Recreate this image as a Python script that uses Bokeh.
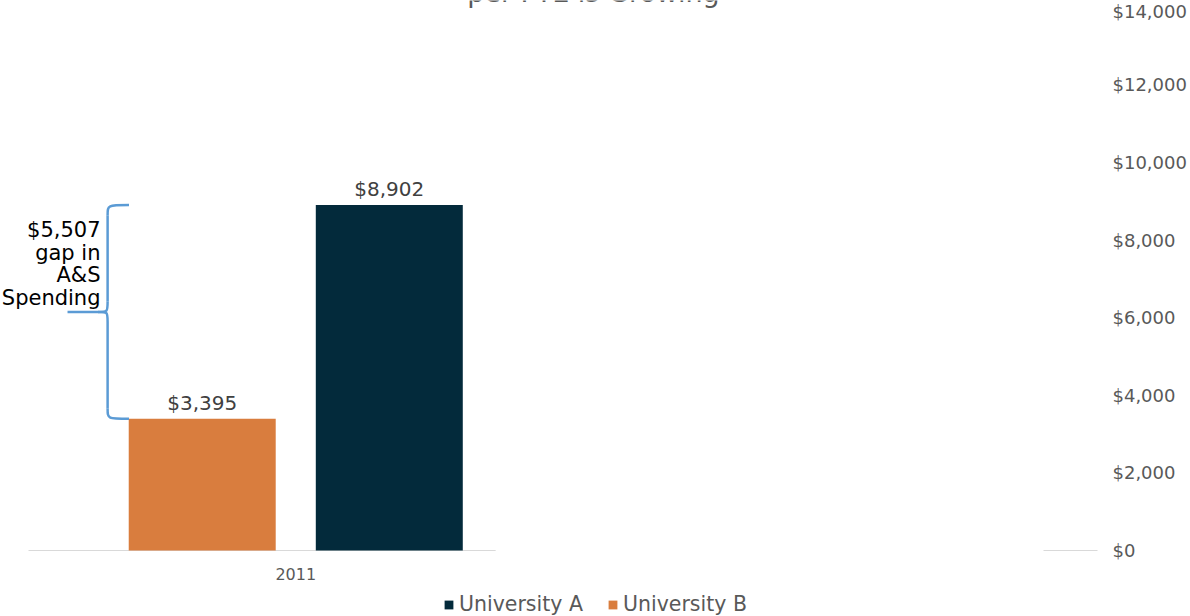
from bokeh.plotting import figure
from bokeh.models import Range1d, FixedTicker, Legend, LegendItem
from bokeh.core.properties import value
from bokeh.embed import file_html
from bokeh.resources import INLINE

# ---- data ----
years = ["2011"]
univ_a = [8902]
univ_b = [3395]
series_names = ["University A", "University B"]
y_ticks = [0, 2000, 4000, 6000, 8000, 10000, 12000, 14000]
y_tick_labels = ["$0", "$2,000", "$4,000", "$6,000", "$8,000", "$10,000", "$12,000", "$14,000"]
gap_lines = ["$5,507", "gap in", "A&S", "Spending"]
title_text = "per FTE is Growing"

# ---- style ----
FONT = "DejaVu Sans"
GREY = "#595959"
ORANGE = "#D97D3E"
NAVY = "#032A3B"
BLUE = "#5B9BD5"

# plot area spans the whole canvas; axes are pinned inside it
X0, X1 = -0.0524, 2.174
Y0, Y1 = -1701, 14175
p = figure(width=1190, height=616, output_backend="svg", toolbar_location=None,
           x_range=Range1d(X0, X1), y_range=Range1d(Y0, Y1),
           y_axis_location="right",
           min_border_left=0, min_border_top=0, min_border_right=0, min_border_bottom=0)
p.outline_line_color = None
p.xgrid.visible = False
p.ygrid.visible = False
p.background_fill_color = "white"
p.border_fill_color = "white"

# y axis (right, pinned at x = 2.0)
ya = p.yaxis[0]
ya.fixed_location = 2.0
ya.ticker = FixedTicker(ticks=y_ticks)
ya.major_label_overrides = {t: l for t, l in zip(y_ticks, y_tick_labels)}
ya.axis_line_color = None
ya.major_tick_line_color = None
ya.minor_tick_line_color = None
ya.major_tick_out = 0
ya.major_tick_in = 0
ya.minor_tick_out = 0
ya.minor_tick_in = 0
ya.major_label_standoff = 15
ya.major_label_text_font = FONT
ya.major_label_text_font_size = "18px"
ya.major_label_text_color = GREY

# x axis (pinned at y = 0)
xpos = [i + 0.5 for i in range(len(years))]
xa = p.xaxis[0]
xa.fixed_location = 0
xa.ticker = FixedTicker(ticks=xpos)
xa.major_label_overrides = {x: y for x, y in zip(xpos, years)}
xa.axis_line_color = None
xa.major_tick_line_color = None
xa.minor_tick_line_color = None
xa.major_tick_out = 0
xa.major_tick_in = 0
xa.minor_tick_out = 0
xa.minor_tick_in = 0
xa.major_label_standoff = 17
xa.major_label_text_font = FONT
xa.major_label_text_font_size = "16px"
xa.major_label_text_color = GREY

# baseline pieces
p.segment(x0=[0.0, 1.899], y0=[0, 0], x1=[0.874, 2.0], y1=[0, 0], line_color="#D9D9D9", line_width=1.2)

OFF = 0.175
BW = 0.275
xb = [x - OFF for x in xpos]
xa_ = [x + OFF for x in xpos]
rb = p.vbar(x=xb, top=univ_b, width=BW, fill_color=ORANGE, line_color=None)
ra = p.vbar(x=xa_, top=univ_a, width=BW, fill_color=NAVY, line_color=None)

# value labels
p.text(x=xb, y=univ_b, text=[f"${v:,}" for v in univ_b], text_align="center", text_baseline="bottom",
       y_offset=-4, text_font=value(FONT), text_font_size="20px", text_color="#404040")
p.text(x=xa_, y=univ_a, text=[f"${v:,}" for v in univ_a], text_align="center", text_baseline="bottom",
       y_offset=-4, text_font=value(FONT), text_font_size="20px", text_color="#404040")

# brace between the two bar tops
y_top = univ_a[0]
y_bot = univ_b[0]
y_mid = (y_top + y_bot) / 2
SPINE, TIP, CUSP, STUB, R = 0.148, 0.188, 0.130, 0.073, 260
bk = dict(line_color=BLUE, line_width=2.5)
p.bezier(x0=[TIP, SPINE, CUSP, SPINE], y0=[y_top, y_mid + R, y_mid, y_bot + R],
         x1=[SPINE, CUSP, SPINE, TIP], y1=[y_top - R, y_mid, y_mid - R, y_bot],
         cx0=[SPINE, SPINE, SPINE, SPINE], cy0=[y_top, y_mid, y_mid, y_bot],
         cx1=[SPINE, SPINE, SPINE, SPINE], cy1=[y_top, y_mid, y_mid, y_bot], **bk)
p.segment(x0=[SPINE, SPINE, CUSP], y0=[y_top - R, y_mid - R, y_mid],
          x1=[SPINE, SPINE, STUB], y1=[y_mid + R, y_bot + R, y_mid], **bk)

# gap text
gap_y = [8270, 7680, 7090, 6500]
p.text(x=[0.1347] * len(gap_lines), y=gap_y, text=gap_lines, text_align="right", text_baseline="middle",
       text_font=value(FONT), text_font_size="21px", text_color="#000000")

# cut-off title (only its lower edge shows, as in the source)
p.text(x=[1.057], y=[14381], text=[title_text], text_align="center", text_baseline="alphabetic",
       text_font=value(FONT), text_font_size="27px", text_color=GREY)

# legend
legend = Legend(items=[LegendItem(label=series_names[0], renderers=[ra]),
                       LegendItem(label=series_names[1], renderers=[rb])],
                orientation="horizontal", location=(443, 0))
legend.glyph_width = 11
legend.glyph_height = 11
legend.label_text_font = FONT
legend.label_text_font_size = "20.5px"
legend.label_text_color = GREY
legend.label_standoff = 5
legend.spacing = 24
legend.padding = 0
legend.margin = 0
legend.border_line_color = None
legend.background_fill_alpha = 0
p.add_layout(legend, "center")

open("out.html", "w").write(file_html(p, INLINE))
